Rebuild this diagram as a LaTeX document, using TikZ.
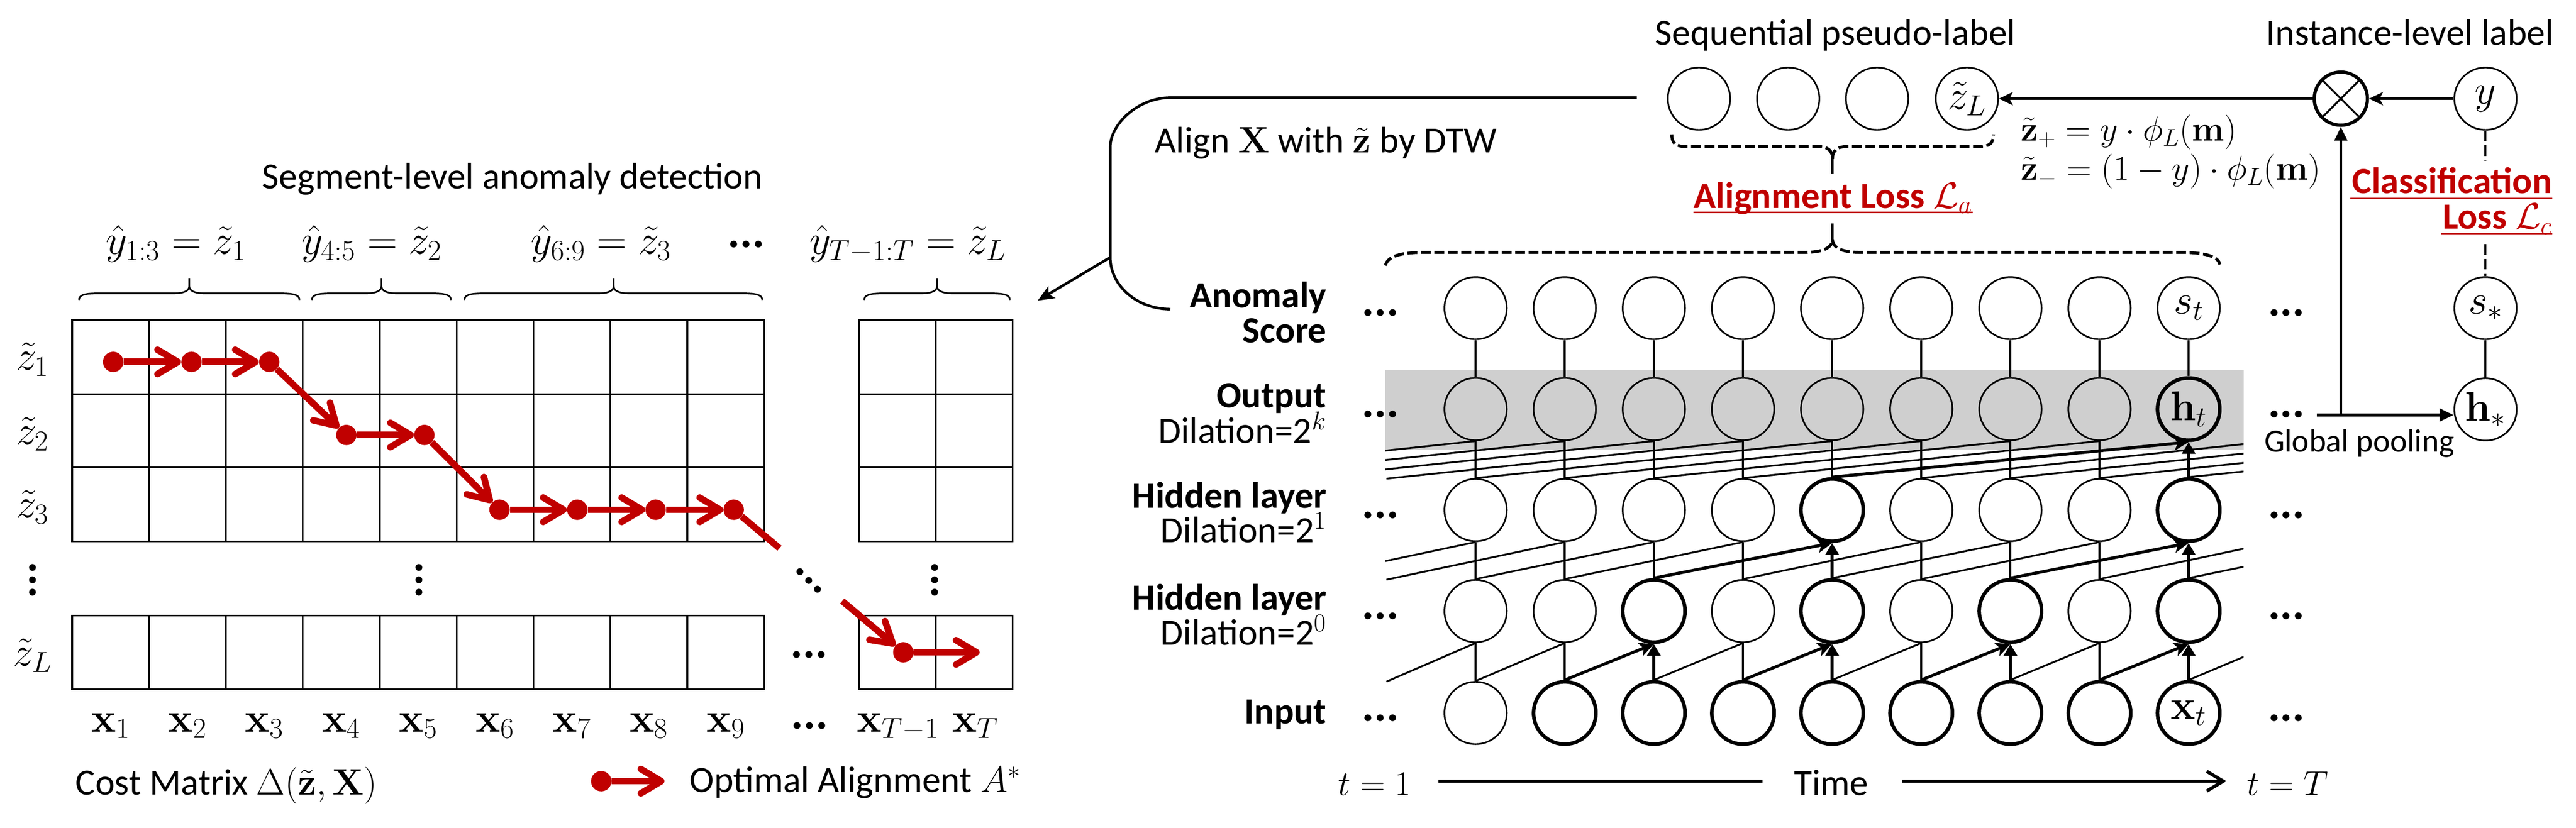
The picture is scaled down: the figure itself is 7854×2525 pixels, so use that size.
\RequirePackage{fix-cm}
\documentclass[tikz,border=0pt]{standalone}
\usepackage{amsmath}
\usepackage[no-math]{fontspec}
\setmainfont{Carlito}
\usetikzlibrary{arrows.meta,calc}
\definecolor{myred}{RGB}{192,0,0}
\definecolor{bandgray}{RGB}{207,207,207}
\newdimen\pix \pix=0.01cm
\newcommand\txtsz{\fontsize{32}{38}\selectfont}
\newcommand\eqsz{\fontsize{30}{36}\selectfont}
\newcommand\mthsz{\fontsize{36}{43}\selectfont}
\newcommand\mybrace[3]{%
 \draw[brc] (#1,915) .. controls (#1,902) and (#1+12,895) .. (#1+55,895) -- (#3-50,895) .. controls (#3-12,895) and (#3,886) .. (#3,872) -- (#3,848);
 \draw[brc] (#3,872) .. controls (#3,886) and (#3+12,895) .. (#3+50,895) -- (#2-55,895) .. controls (#2-12,895) and (#2,902) .. (#2,915);}
\begin{document}
\begin{tikzpicture}[x=0.01cm,y=-0.01cm,
  txt/.style={font=\txtsz, inner sep=0pt},
  btxt/.style={font={\txtsz\bfseries}, inner sep=0pt},
  mth/.style={font=\mthsz, inner sep=0pt},
  eqn/.style={font=\eqsz, inner sep=0pt},
  ell/.style={font={\fontsize{40}{48}\selectfont\bfseries}, inner sep=0pt},
  neur/.style={circle, draw, line width=5\pix, minimum size=1.9cm, inner sep=0pt, font=\mthsz, fill=white},
  thk/.style={line width=11\pix},
  ghost/.style={circle, minimum size=1.9cm, inner sep=0pt},
  vln/.style={line width=6\pix},
  dln/.style={line width=5.5\pix},
  tva/.style={line width=10\pix, -{Triangle[length=0.36cm,width=0.4cm]}},
  tda/.style={line width=9\pix, -{Stealth[length=0.44cm,width=0.42cm,inset=0.1cm]}},
  gridl/.style={line width=5\pix},
  brc/.style={line width=5\pix},
  reddot/.style={circle, fill=myred, minimum size=0.62cm, inner sep=0pt},
  redl/.style={myred, line width=20\pix},
  redarr/.style={redl, -{Straight Barb[length=0.62cm,width=0.74cm,round]}},
  barr/.style={line width=9\pix, -{Stealth[length=0.42cm,width=0.4cm,inset=0.1cm]}},
  barr2/.style={line width=9\pix, -{Triangle[length=0.42cm,width=0.38cm]}},
  dsh/.style={line width=6\pix, dash pattern=on 0.32cm off 0.13cm},
  dbr/.style={line width=9\pix, dash pattern=on 0.3cm off 0.11cm},
  axl/.style={line width=10\pix},
  losst/.style={font={\fontsize{32}{38}\selectfont\bfseries}, text=myred, inner sep=0pt},
  ulin/.style={myred, line width=5\pix}
]
\useasboundingbox (0,0) rectangle (7854,2525);

%% ===================== LEFT: cost matrix =====================
\node[txt, anchor=base] (segtitle) at (1562,575) {Segment-level anomaly detection};

\mybrace{241}{913}{577}
\mybrace{951}{1375}{1163}
\mybrace{1416}{2324}{1871}
\mybrace{2635}{3079}{2857}
\node[mth, anchor=base] (lb1) at (536,775) {$\hat{y}_{1:3}=\tilde{z}_1$};
\node[mth, anchor=base] (lb2) at (1133,775) {$\hat{y}_{4:5}=\tilde{z}_2$};
\node[mth, anchor=base] (lb3) at (1833,775) {$\hat{y}_{6:9}=\tilde{z}_3$};
\node[ell] (lbdots) at (2275,746) {...};
\node[mth, anchor=base] (lb4) at (2768,775) {$\hat{y}_{T-1:T}=\tilde{z}_L$};

% grids
\draw[gridl] (220,976) rectangle (2330,1652);
\draw[gridl] (220,1878) rectangle (2330,2103);
\foreach \k in {1,...,8}{
  \draw[gridl] ({220+234.44*\k},976) -- ({220+234.44*\k},1652);
  \draw[gridl] ({220+234.44*\k},1878) -- ({220+234.44*\k},2103);
}
\foreach \yy in {1202,1426}{ \draw[gridl] (220,\yy) -- (2330,\yy); \draw[gridl] (2619,\yy) -- (3088,\yy); }
\draw[gridl] (2619,976) rectangle (3088,1652);
\draw[gridl] (2619,1878) rectangle (3088,2103);
\draw[gridl] (2853.5,976) -- (2853.5,1652);
\draw[gridl] (2853.5,1878) -- (2853.5,2103);

% row labels
\node[mth, anchor=base] (z1) at (99,1129) {$\tilde{z}_1$};
\node[mth, anchor=base] (z2) at (99,1356) {$\tilde{z}_2$};
\node[mth, anchor=base] (z3) at (99,1580) {$\tilde{z}_3$};
\node[ell, rotate=90] (zdots) at (99,1770) {...};
\node[mth, anchor=base] (zL) at (99,2032) {$\tilde{z}_L$};
\node[ell, rotate=90] (gdots1) at (1278,1770) {...};
\node[ell, rotate=90] (gdots2) at (2850,1770) {...};
\node[ell, rotate=-45] (gdots3) at (2467,1772) {...};
\node[ell] (gdots4) at (2467,1998) {...};

% column labels
\foreach \k in {1,...,9}{
  \node[mth, anchor=base] (x\k) at ({220+234.44*(\k-0.5)},2233) {$\mathbf{x}_{\k}$};
}
\node[ell] (xdots) at (2468,2214) {...};
\node[mth, anchor=base] (xTm) at (2738,2233) {$\mathbf{x}_{T-1}$};
\node[mth, anchor=base] (xT) at (2973,2233) {$\mathbf{x}_{T}$};

% red optimal alignment path
\node[reddot] (d1) at (345,1104) {};
\node[reddot] (d2) at (584,1104) {};
\node[reddot] (d3) at (821,1104) {};
\node[reddot] (d4) at (1056,1327) {};
\node[reddot] (d5) at (1294,1327) {};
\node[reddot] (d6) at (1523,1555) {};
\node[reddot] (d7) at (1760,1555) {};
\node[reddot] (d8) at (1999,1555) {};
\node[reddot] (d9) at (2237,1555) {};
\node[reddot] (dL) at (2754,1990) {};
\coordinate (dend) at (2987,1990);
\draw[redarr] (d1) -- (d2);
\draw[redarr] (d2) -- (d3);
\draw[redarr] (d3) -- (d4);
\draw[redarr] (d4) -- (d5);
\draw[redarr] (d5) -- (d6);
\draw[redarr] (d6) -- (d7);
\draw[redarr] (d7) -- (d8);
\draw[redarr] (d8) -- (d9);
\coordinate (brk1) at ($(d9)!0.27!(dL)$);
\coordinate (brk2) at ($(d9)!0.64!(dL)$);
\draw[redl] (d9) -- (brk1);
\draw[redarr] (brk2) -- (dL);
\draw[redarr] (dL) -- (dend);

% bottom captions
\node[txt, anchor=base west] (costm) at (230,2425) {Cost Matrix $\Delta(\tilde{\mathbf{z}},\mathbf{X})$};
\node[reddot] (lg) at (1833,2383) {};
\coordinate (lge) at (2026,2383);
\draw[redarr] (lg) -- (lge);
\node[txt, anchor=base west] (optal) at (2102,2417) {Optimal Alignment $A^{*}$};

%% ===================== bracket (DTW) =====================
\coordinate (brtop) at (4990,298);
\coordinate (brarr) at (3385,785);
\coordinate (gridarr) at (3164,917);
\draw[line width=8\pix] (brtop) -- (3568,298) .. controls (3467,298) and (3385,381) .. (3385,448) -- (brarr) -- (3385,785) .. controls (3385,872) and (3467,943) .. (3568,943);
\draw[line width=8\pix, -{Stealth[length=0.5cm,width=0.42cm,inset=0.12cm]}] (brarr) -- (gridarr);
\node[txt, anchor=base west] (aligntxt) at (3520,466) {Align $\mathbf{X}$ with $\tilde{\mathbf{z}}$ by DTW};

%% ===================== TCN =====================
\fill[bandgray] (4224,1128) rectangle (6840,1372);

% ghost nodes for off-picture columns
\foreach \rr/\yy in {0/2175,1/1864,2/1556,3/1248,4/940}{
  \foreach \i in {-3,...,0,10,11,12,13}{
    \node[ghost] (n\rr c\i) at ({4499+271.75*(\i-1)},\yy) {};
  }
}
% visible nodes
\foreach \i in {1,...,8}{
  \node[neur] (n4c\i) at ({4499+271.75*(\i-1)},940) {};
  \node[neur, fill=none] (n3c\i) at ({4499+271.75*(\i-1)},1248) {};
}
\node[neur] (n4c9) at ({4499+271.75*8},940) {$s_t$};
\node[neur, fill=none, thk] (n3c9) at ({4499+271.75*8},1248) {$\mathbf{h}_t$};
\foreach \i in {1,2,3,4,6,7,8}{
  \node[neur] (n2c\i) at ({4499+271.75*(\i-1)},1556) {};
}
\foreach \i in {5,9}{
  \node[neur, thk] (n2c\i) at ({4499+271.75*(\i-1)},1556) {};
}
\foreach \i in {1,2,4,6,8}{
  \node[neur] (n1c\i) at ({4499+271.75*(\i-1)},1864) {};
}
\foreach \i in {3,5,7,9}{
  \node[neur, thk] (n1c\i) at ({4499+271.75*(\i-1)},1864) {};
}
\node[neur] (n0c1) at (4499,2175) {};
\foreach \i in {2,...,8}{
  \node[neur, thk] (n0c\i) at ({4499+271.75*(\i-1)},2175) {};
}
\node[neur, thk] (n0c9) at ({4499+271.75*8},2175) {$\mathbf{x}_t$};

% vertical connections
\foreach \i in {1,...,9}{ \draw[vln] (n3c\i) -- (n4c\i); }
\foreach \i in {1,...,8}{ \draw[vln] (n2c\i) -- (n3c\i); }
\draw[tva] (n2c9) -- (n3c9);
\foreach \i in {1,2,3,4,6,7,8}{ \draw[vln] (n1c\i) -- (n2c\i); }
\foreach \i in {5,9}{ \draw[tva] (n1c\i) -- (n2c\i); }
\foreach \i in {1,2,4,6,8}{ \draw[vln] (n0c\i) -- (n1c\i); }
\foreach \i in {3,5,7,9}{ \draw[tva] (n0c\i) -- (n1c\i); }

% dilated (diagonal) connections
\begin{scope}
\clip (4224,0) rectangle (6840,2525);
\foreach \i in {0,1,3,5,7,9}{
  \pgfmathtruncatemacro\j{\i+1}
  \draw[dln] (n0c\i.north) -- (n1c\j.south);
}
\foreach \i in {-1,0,1,2,4,5,6,8,9}{
  \pgfmathtruncatemacro\j{\i+2}
  \draw[dln] (n1c\i.north) -- (n2c\j.south);
}
\foreach \i in {-3,-2,-1,0,1,2,3,4,6,7,8,9}{
  \pgfmathtruncatemacro\j{\i+4}
  \draw[dln] (n2c\i.north) -- (n3c\j.south);
}
\end{scope}
\foreach \i in {2,4,6,8}{
  \pgfmathtruncatemacro\j{\i+1}
  \draw[tda] (n0c\i.north) -- (n1c\j.south);
}
\draw[tda] (n1c3.north) -- (n2c5.south);
\draw[tda] (n1c7.north) -- (n2c9.south);
\draw[tda] (n2c5.north) -- (n3c9.south);

% row labels
\node[btxt, anchor=base east] (lanom) at (4045,938) {Anomaly};
\node[btxt, anchor=base east] (lscore) at (4045,1046) {Score};
\node[btxt, anchor=base east] (lout) at (4045,1244) {Output};
\node[txt, anchor=base east] (ldk) at (4045,1351) {Dilation=2$^{k}$};
\node[btxt, anchor=base east] (lh1) at (4045,1549) {Hidden layer};
\node[txt, anchor=base east] (ld1) at (4045,1655) {Dilation=2$^{1}$};
\node[btxt, anchor=base east] (lh0) at (4045,1860) {Hidden layer};
\node[txt, anchor=base east] (ld0) at (4045,1968) {Dilation=2$^{0}$};
\node[btxt, anchor=base east] (linp) at (4045,2208) {Input};
\foreach \rr/\yy in {4/955,3/1263,2/1571,1/1879,0/2190}{
  \node[ell] (ldots\rr) at (4209,\yy) {...};
  \node[ell] (rdots\rr) at (6971,\yy) {...};
}

% time axis
\node[eqn, anchor=base] (t1) at (4191,2426) {$t=1$};
\node[txt, anchor=base] (timet) at (5583,2426) {Time};
\node[eqn, anchor=base] (tT) at (6975,2426) {$t=T$};
\coordinate (ax1) at (4386,2383);
\coordinate (ax2) at (5373,2383);
\coordinate (ax3) at (5800,2383);
\coordinate (ax4) at (6788,2383);
\draw[axl] (ax1) -- (ax2);
\draw[axl, -{Straight Barb[length=0.5cm,width=0.6cm]}] (ax3) -- (ax4);

%% ===================== top right =====================
\node[txt, anchor=base] (seqt) at (5596,137) {Sequential pseudo-label};
\node[txt, anchor=base] (inst) at (7348,137) {Instance-level label};
\node[neur, fill=none] (s1) at (5180,301) {};
\node[neur, fill=none] (s2) at (5452,301) {};
\node[neur, fill=none] (s3) at (5723,301) {};
\node[neur, fill=none] (s4) at (5997,301) {$\tilde{z}_L$};
\node[circle, draw, line width=10\pix, minimum size=1.62cm, inner sep=0pt] (ox) at (7137,301) {};
\draw[line width=6\pix] (ox.45) -- (ox.225) (ox.135) -- (ox.-45);
\node[neur, fill=none] (ynode) at (7578,301) {$y$};
\node[neur, fill=none] (sstar) at (7578,940) {$s_{*}$};
\node[neur, fill=none] (hstar) at (7578,1249) {$\mathbf{h}_{*}$};
\draw[vln] (sstar) -- (hstar);
\draw[barr] (ox.west) -- (s4.east);
\draw[barr] (ynode.west) -- (ox.east);
\coordinate (gp) at (7064,1266);
\draw[barr2] (gp) -- (gp -| hstar.west);
\draw[barr2] (gp -| ox.south) -- (ox.south);
\node[txt, font={\fontsize{28}{34}\selectfont}, anchor=base west] (gpool) at (6903,1379) {Global pooling};

\node[eqn, anchor=base west] (eqp) at (6160,430) {$\tilde{\mathbf{z}}_{+}=y\cdot\phi_L(\mathbf{m})$};
\node[eqn, anchor=base west] (eqm) at (6160,549) {$\tilde{\mathbf{z}}_{-}=(1-y)\cdot\phi_L(\mathbf{m})$};

% dashed braces
\draw[dbr] (5097,410) .. controls (5097,438) and (5110,447) .. (5141,447) -- (5540,447) .. controls (5575,447) and (5587,460) .. (5587,485);
\draw[dbr] (5587,485) .. controls (5587,460) and (5599,447) .. (5634,447) -- (6034,447) .. controls (6065,447) and (6078,438) .. (6078,410);
\draw[line width=8\pix] (5587,478) -- (5587,530);
\draw[dbr] (4224,810) .. controls (4230,782) and (4270,770) .. (4340,770) -- (5500,770) .. controls (5560,770) and (5587,755) .. (5587,730);
\draw[dbr] (5587,730) .. controls (5587,755) and (5614,770) .. (5674,770) -- (6650,770) .. controls (6730,770) and (6765,785) .. (6768,807);
\draw[line width=8\pix] (5587,738) -- (5587,682);

% losses
\node[losst, anchor=base] (aloss) at (5589,635) {Alignment Loss $\mathcal{L}_a$};
\draw[ulin] ($(aloss.base west)+(0,13)$) -- ($(aloss.base east)+(0,13)$);
\node[losst, anchor=base east] (closs1) at (7782,590) {Classification};
\draw[ulin] ($(closs1.base west)+(-4,15)$) -- ($(closs1.base east)+(0,15)$);
\node[losst, anchor=base east] (closs2) at (7782,698) {Loss $\mathcal{L}_c$};
\draw[ulin] ($(closs2.base west)+(-4,15)$) -- ($(closs2.base east)+(0,15)$);
\coordinate (dA) at (7578,490);
\coordinate (dB) at (7578,745);
\draw[dsh] (ynode.south) -- (dA);
\draw[dsh] (dB) -- (sstar.north);
\end{tikzpicture}
\end{document}
